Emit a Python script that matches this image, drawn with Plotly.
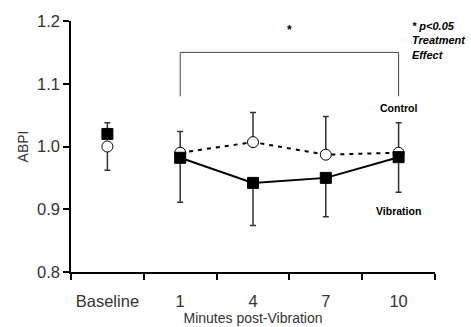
import plotly.graph_objects as go

categories = ["Baseline", "1", "4", "7", "10"]
vibration = [1.020, 0.982, 0.942, 0.950, 0.983]
vibration_err_up = [0.018, 0, 0, 0, 0]
vibration_err_down = [0, 0.071, 0.068, 0.062, 0.056]
control = [1.000, 0.990, 1.007, 0.987, 0.990]
control_err_up = [0, 0.034, 0.047, 0.061, 0.048]
control_err_down = [0.038, 0, 0, 0, 0]

FONT = "Liberation Sans, Arial, sans-serif"
fig = go.Figure()

def add_series(vals, up, down, symbol, fill, dash, name):
    # baseline point (unconnected)
    fig.add_trace(go.Scatter(
        x=categories[:1], y=vals[:1], mode="markers",
        marker=dict(symbol=symbol, size=11, color=fill, line=dict(color="black", width=1)),
        error_y=dict(type="data", symmetric=False, array=up[:1], arrayminus=down[:1],
                     color="#333333", thickness=1.5, width=3),
        showlegend=False, name=name))
    fig.add_trace(go.Scatter(
        x=categories[1:], y=vals[1:], mode="lines+markers",
        line=dict(color="black", width=2, dash=dash),
        marker=dict(symbol=symbol, size=11, color=fill, line=dict(color="black", width=1)),
        error_y=dict(type="data", symmetric=False, array=up[1:], arrayminus=down[1:],
                     color="#333333", thickness=1.5, width=3),
        showlegend=False, name=name))

add_series(control, control_err_up, control_err_down, "circle", "white", "4px,5px", "Control")
add_series(vibration, vibration_err_up, vibration_err_down, "square", "black", "solid", "Vibration")

# significance bracket
fig.add_trace(go.Scatter(
    x=["1", "1", "10", "10"], y=[1.08, 1.15, 1.15, 1.08], mode="lines",
    line=dict(color="#444444", width=1), showlegend=False, hoverinfo="skip"))

fig.update_layout(
    width=471, height=327,
    margin=dict(l=71, r=36, t=21, b=55),
    paper_bgcolor="white", plot_bgcolor="white",
    font=dict(family=FONT, color="#222222"),
    xaxis=dict(type="category", range=[-0.5, 4.5], tickson="boundaries",
               showline=True, linecolor="black", linewidth=1.5,
               ticks="outside", ticklen=6, tickcolor="black", tickwidth=1.5,
               showgrid=False, tickfont=dict(size=16.5, color="#333333"),
               ticklabelstandoff=13, automargin=False,
               title=dict(text="Minutes post-Vibration", font=dict(size=14, color="#333333"), standoff=3)),
    yaxis=dict(range=[0.8, 1.2], tickvals=[0.8, 0.9, 1.0, 1.1, 1.2],
               ticktext=["0.8", "0.9", "1.0", "1.1", "1.2"],
               showline=True, linecolor="black", linewidth=1.5,
               ticks="outside", ticklen=6, tickcolor="black", tickwidth=1.5,
               showgrid=False, zeroline=False, tickfont=dict(size=16.5, color="#333333"),
               automargin=False,
               title=dict(text="ABPI", font=dict(size=14, color="#333333"), standoff=5)),
)

# categorical positions by index: Baseline=0, 1=1, 4=2, 7=3, 10=4
fig.add_annotation(x=2.5, y=1.185, xref="x", yref="y", text="<b>*</b>", showarrow=False,
                   font=dict(size=12, color="black"))
fig.add_annotation(x=0.93, y=1.01, xref="paper", yref="paper", xanchor="left", yanchor="top",
                   align="left", showarrow=False,
                   text="<b><i>* p&lt;0.05<br>Treatment<br>Effect</i></b>",
                   font=dict(size=11, color="black"))
fig.add_annotation(x=4, y=1.062, xref="x", yref="y", text="<b>Control</b>", showarrow=False,
                   font=dict(size=10.5, color="black"))
fig.add_annotation(x=4, y=0.897, xref="x", yref="y", text="<b>Vibration</b>", showarrow=False,
                   font=dict(size=10.5, color="black"))

fig.write_html("out.html")
